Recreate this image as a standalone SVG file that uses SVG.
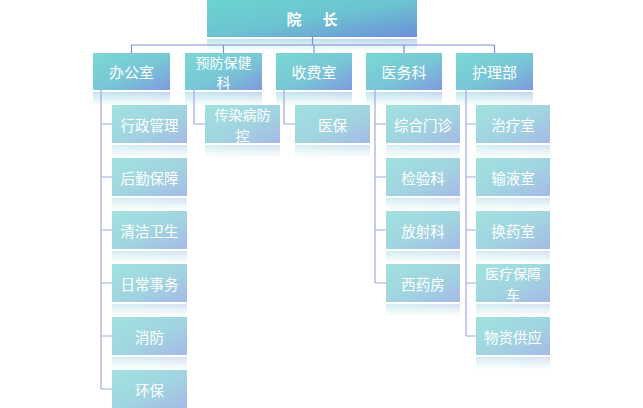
<svg xmlns="http://www.w3.org/2000/svg" width="643" height="408" viewBox="0 0 643 408">
<defs>
<linearGradient id="gTop" x1="0" y1="0" x2="1" y2="1"><stop offset="0" stop-color="#6cd4cf"/><stop offset="0.5" stop-color="#6cc3d2"/><stop offset="1" stop-color="#6d8fd8"/></linearGradient>
<linearGradient id="gTopR" x1="0" y1="1" x2="1" y2="0"><stop offset="0" stop-color="#6cd4cf"/><stop offset="0.5" stop-color="#6cc3d2"/><stop offset="1" stop-color="#6d8fd8"/></linearGradient>
<linearGradient id="gPar" x1="0" y1="0" x2="1" y2="1"><stop offset="0" stop-color="#7ad9d4"/><stop offset="0.55" stop-color="#78c6d6"/><stop offset="1" stop-color="#7f9ade"/></linearGradient>
<linearGradient id="gParR" x1="0" y1="1" x2="1" y2="0"><stop offset="0" stop-color="#7ad9d4"/><stop offset="0.55" stop-color="#78c6d6"/><stop offset="1" stop-color="#7f9ade"/></linearGradient>
<linearGradient id="gCh" x1="0" y1="0" x2="1" y2="1"><stop offset="0" stop-color="#a1e2df"/><stop offset="0.55" stop-color="#a1d4e0"/><stop offset="1" stop-color="#a6b9e7"/></linearGradient>
<linearGradient id="gChR" x1="0" y1="1" x2="1" y2="0"><stop offset="0" stop-color="#a1e2df"/><stop offset="0.55" stop-color="#a1d4e0"/><stop offset="1" stop-color="#a6b9e7"/></linearGradient>
<linearGradient id="fade" x1="0" y1="0" x2="0" y2="1"><stop offset="0" stop-color="#fff" stop-opacity="0.45"/><stop offset="1" stop-color="#fff" stop-opacity="0"/></linearGradient>
<mask id="m" maskContentUnits="objectBoundingBox"><rect width="1" height="1" fill="url(#fade)"/></mask>
</defs>
<style>
text{font-family:"Noto Sans CJK SC","Noto Sans",sans-serif;fill:#fff;text-anchor:middle;dominant-baseline:central;font-size:14.5px}
.p{font-size:15px}
.w{font-size:14px}
.top{font-size:15px;font-weight:bold;letter-spacing:3px}
.par{fill:url(#gPar)}
.parR{fill:url(#gParR)}
.ch{fill:url(#gCh)}
.chR{fill:url(#gChR)}
.ln{stroke:#7890d8;stroke-width:1.2;fill:none}
.ln2{stroke:#a2aae0;stroke-width:1.2;fill:none}
</style>
<rect width="643" height="408" fill="#fff"/>

<g id="n-yuanzhang"><rect x="207" y="0" width="210" height="37" fill="url(#gTop)"/><rect x="207" y="39" width="210" height="12" fill="url(#gTopR)" mask="url(#m)"/><text class="top" x="313.5" y="18.5">院　长</text></g>

<g id="n-bangongshi"><rect class="par" x="93" y="53" width="77" height="37"/><rect class="parR" x="93" y="92" width="77" height="14" mask="url(#m)"/><text class="p" x="131.5" y="71.5">办公室</text></g>
<g id="n-yufang"><rect class="par" x="185" y="53" width="77" height="37"/><rect class="parR" x="185" y="92" width="77" height="14" mask="url(#m)"/><text class="w" x="223.5" y="61.5">预防保健</text><text class="w" x="223.5" y="82">科</text></g>
<g id="n-shoufei"><rect class="par" x="276" y="53" width="76" height="37"/><rect class="parR" x="276" y="92" width="76" height="14" mask="url(#m)"/><text class="p" x="314" y="71.5">收费室</text></g>
<g id="n-yiwu"><rect class="par" x="366" y="53" width="76" height="37"/><rect class="parR" x="366" y="92" width="76" height="14" mask="url(#m)"/><text class="p" x="404" y="71.5">医务科</text></g>
<g id="n-huli"><rect class="par" x="456" y="53" width="77" height="37"/><rect class="parR" x="456" y="92" width="77" height="14" mask="url(#m)"/><text class="p" x="494.5" y="71.5">护理部</text></g>

<g id="n-xingzheng"><rect class="ch" x="112" y="105" width="75" height="38"/><rect class="chR" x="112" y="145" width="75" height="13" mask="url(#m)"/><text x="149.5" y="124">行政管理</text></g>
<g id="n-houqin"><rect class="ch" x="112" y="158" width="75" height="38"/><rect class="chR" x="112" y="198" width="75" height="13" mask="url(#m)"/><text x="149.5" y="177">后勤保障</text></g>
<g id="n-qingjie"><rect class="ch" x="112" y="211" width="75" height="38"/><rect class="chR" x="112" y="251" width="75" height="13" mask="url(#m)"/><text x="149.5" y="230">清洁卫生</text></g>
<g id="n-richang"><rect class="ch" x="112" y="264" width="75" height="38"/><rect class="chR" x="112" y="304" width="75" height="13" mask="url(#m)"/><text x="149.5" y="283">日常事务</text></g>
<g id="n-xiaofang"><rect class="ch" x="112" y="317" width="75" height="38"/><rect class="chR" x="112" y="357" width="75" height="13" mask="url(#m)"/><text x="149.5" y="336">消防</text></g>
<g id="n-huanbao"><rect class="ch" x="112" y="370" width="75" height="38"/><text x="149.5" y="389">环保</text></g>

<g id="n-chuanran"><rect class="ch" x="205" y="105" width="75" height="38"/><rect class="chR" x="205" y="145" width="75" height="13" mask="url(#m)"/><text class="w" x="242.5" y="114">传染病防</text><text class="w" x="242.5" y="134.5">控</text></g>

<g id="n-yibao"><rect class="ch" x="295" y="105" width="75" height="38"/><rect class="chR" x="295" y="145" width="75" height="13" mask="url(#m)"/><text x="332.5" y="124">医保</text></g>

<g id="n-zonghe"><rect class="ch" x="386" y="105" width="74" height="38"/><rect class="chR" x="386" y="145" width="74" height="13" mask="url(#m)"/><text x="423" y="124">综合门诊</text></g>
<g id="n-jianyan"><rect class="ch" x="386" y="158" width="74" height="38"/><rect class="chR" x="386" y="198" width="74" height="13" mask="url(#m)"/><text x="423" y="177">检验科</text></g>
<g id="n-fangshe"><rect class="ch" x="386" y="211" width="74" height="38"/><rect class="chR" x="386" y="251" width="74" height="13" mask="url(#m)"/><text x="423" y="230">放射科</text></g>
<g id="n-xiyao"><rect class="ch" x="386" y="264" width="74" height="38"/><rect class="chR" x="386" y="304" width="74" height="13" mask="url(#m)"/><text x="423" y="283">西药房</text></g>

<g id="n-zhiliao"><rect class="ch" x="476" y="105" width="74" height="38"/><rect class="chR" x="476" y="145" width="74" height="13" mask="url(#m)"/><text x="513" y="124">治疗室</text></g>
<g id="n-shuye"><rect class="ch" x="476" y="158" width="74" height="38"/><rect class="chR" x="476" y="198" width="74" height="13" mask="url(#m)"/><text x="513" y="177">输液室</text></g>
<g id="n-huanyao"><rect class="ch" x="476" y="211" width="74" height="38"/><rect class="chR" x="476" y="251" width="74" height="13" mask="url(#m)"/><text x="513" y="230">换药室</text></g>
<g id="n-yiliao"><rect class="ch" x="476" y="264" width="74" height="38"/><rect class="chR" x="476" y="304" width="74" height="13" mask="url(#m)"/><text class="w" x="513" y="273">医疗保障</text><text class="w" x="513" y="293.5">车</text></g>
<g id="n-wuzi"><rect class="ch" x="476" y="317" width="74" height="38"/><rect class="chR" x="476" y="357" width="74" height="13" mask="url(#m)"/><text x="513" y="336">物资供应</text></g>

<g id="connectors">
<path class="ln" d="M312.5 37V45M131.5 45H494.5M131.5 45V53M223.5 45V53M314 45V53M404 45V53M494.5 45V53"/>
<path class="ln2" d="M101 90V389M101 124H112M101 177H112M101 230H112M101 283H112M101 336H112M101 389H112"/>
<path class="ln2" d="M194 90V124H205"/>
<path class="ln2" d="M284 90V124H295"/>
<path class="ln2" d="M375 90V283M375 124H386M375 177H386M375 230H386M375 283H386"/>
<path class="ln2" d="M466 90V336M466 124H476M466 177H476M466 230H476M466 283H476M466 336H476"/>
</g>
</svg>
